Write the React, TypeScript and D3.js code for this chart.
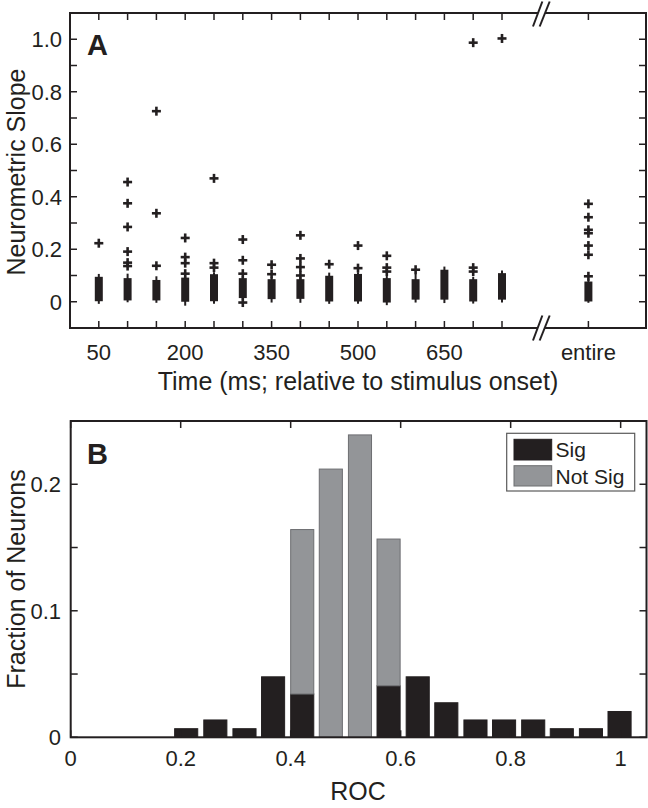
import React from "react";
import * as d3 from "d3";

// ---------- Panel A data (neurometric slope box plots) ----------
const timePositions = [50, 100, 150, 200, 250, 300, 350, 400, 450, 500, 550, 600, 650, 700, 750, 900];
const q1Values = [0.002, 0.005, 0.005, 0.0, 0.002, 0.014, 0.01, 0.011, 0.001, 0.001, -0.003, 0.008, 0.008, 0.001, 0.008, 0.001];
const q3Values = [0.095, 0.09, 0.083, 0.092, 0.105, 0.09, 0.086, 0.086, 0.099, 0.106, 0.09, 0.086, 0.122, 0.086, 0.109, 0.077];
const whiskerLow = [-0.008, -0.002, -0.004, -0.015, -0.008, 0.005, -0.003, -0.004, -0.008, -0.008, -0.013, -0.003, -0.005, -0.007, -0.003, -0.004];
const whiskerHigh = [0.106, 0.107, 0.097, 0.1, 0.112, 0.098, 0.095, 0.094, 0.111, 0.112, 0.098, 0.106, 0.134, 0.095, 0.119, 0.085];
const outliers = [
  [0.223],
  [0.456, 0.375, 0.285, 0.191, 0.149, 0.136],
  [0.726, 0.337, 0.137],
  [0.243, 0.17, 0.147, 0.107],
  [0.47, 0.147, 0.13],
  [0.237, 0.158, 0.107, -0.003],
  [0.141, 0.105],
  [0.253, 0.165, 0.132, 0.1],
  [0.143],
  [0.214, 0.128],
  [0.175, 0.13, 0.115],
  [0.122],
  [],
  [0.987, 0.13, 0.115],
  [1.003],
  [0.373, 0.322, 0.274, 0.261, 0.214, 0.179, 0.097],
];
const timeTickValues = [50, 100, 150, 200, 250, 300, 350, 400, 450, 500, 550, 600, 650, 700, 750, 900];
const timeTickLabels = [
  { v: 50, t: "50" },
  { v: 200, t: "200" },
  { v: 350, t: "350" },
  { v: 500, t: "500" },
  { v: 650, t: "650" },
  { v: 900, t: "entire" },
];
const breakAt = 818;
const slopeTicks = [0, 0.1, 0.2, 0.3, 0.4, 0.5, 0.6, 0.7, 0.8, 0.9, 1.0];
const slopeLabels = [
  { v: 0, t: "0" },
  { v: 0.2, t: "0.2" },
  { v: 0.4, t: "0.4" },
  { v: 0.6, t: "0.6" },
  { v: 0.8, t: "0.8" },
  { v: 1.0, t: "1.0" },
];

// ---------- Panel B data (ROC histogram) ----------
const rocBinCenters = [0.0, 0.053, 0.105, 0.158, 0.21, 0.263, 0.316, 0.368, 0.421, 0.473, 0.526, 0.578, 0.631, 0.683, 0.736, 0.788, 0.841, 0.893, 0.946, 0.998];
const sigFraction = [0, 0, 0, 0, 0.0068, 0.0137, 0.0068, 0.0478, 0.0342, 0, 0, 0.0407, 0.0478, 0.0273, 0.0137, 0.0137, 0.0137, 0.0068, 0.0068, 0.0204];
const notSigFraction = [0, 0, 0, 0, 0, 0, 0, 0, 0.13, 0.212, 0.239, 0.116, 0, 0, 0, 0, 0, 0, 0, 0];
const rocTicks = [0, 0.2, 0.4, 0.6, 0.8, 1];
const rocTickLabels = ["0", "0.2", "0.4", "0.6", "0.8", "1"];
const fracTicks = [0, 0.05, 0.1, 0.15, 0.2, 0.25];
const fracLabels = [
  { v: 0, t: "0" },
  { v: 0.1, t: "0.1" },
  { v: 0.2, t: "0.2" },
];
const legendLabels = ["Sig", "Not Sig"];

const FONT = "'Liberation Sans', Arial, Helvetica, sans-serif";
const BLACK = "#231f20";
const GRAY = "#939598";
const GRAY_STROKE = "#6d6e71";
const TICK_FS = 22;
const LABEL_FS = 25;
const LETTER_FS = 29;

export default function App() {
  // Panel A scales
  const xA = d3.scaleLinear().domain([0, 1000]).range([70, 646]);
  const yA = d3.scaleLinear().domain([-0.1, 1.1]).range([328, 13]);
  // Panel B scales
  const xB = d3.scaleLinear().domain([0, 1.047]).range([70.7, 646.5]);
  const yB = d3.scaleLinear().domain([0, 0.25]).range([737.3, 421]);

  const aL = 70, aR = 646, aT = 13, aB = 328;
  const bL = 70.7, bR = 646.5, bT = 421, bB = 737.3;
  const tick = 7;
  const binW = 0.042;

  const bx = xA(breakAt);
  const slash = (cy: number) => {
    const p1a = [bx - 8.2, cy + 12.5], p1b = [bx + 1.2, cy - 12.5];
    const p2a = [bx - 1.5, cy + 12.5], p2b = [bx + 8.5, cy - 12.5];
    return (
      <g>
        <polygon
          points={`${p1a[0]},${p1a[1]} ${p1b[0]},${p1b[1]} ${p2b[0]},${p2b[1]} ${p2a[0]},${p2a[1]}`}
          fill="#fff"
        />
        <line x1={p1a[0]} y1={p1a[1]} x2={p1b[0]} y2={p1b[1]} stroke={BLACK} strokeWidth={2} />
        <line x1={p2a[0]} y1={p2a[1]} x2={p2b[0]} y2={p2b[1]} stroke={BLACK} strokeWidth={2} />
      </g>
    );
  };

  const plus = (cx: number, cy: number, key: string) => (
    <g key={key} stroke={BLACK} strokeWidth={2.6}>
      <line x1={cx - 4.5} y1={cy} x2={cx + 4.5} y2={cy} />
      <line x1={cx} y1={cy - 4.5} x2={cx} y2={cy + 4.5} />
    </g>
  );

  return (
    <svg
      width={648}
      height={808}
      style={{ position: "absolute", left: 0, top: 0, background: "#fff" }}
      fontFamily={FONT}
    >
      <rect x={0} y={0} width={648} height={808} fill="#fff" />

      {/* ================= Panel A ================= */}
      <g>
        {timePositions.map((t, i) => {
          const cx = xA(t);
          return (
            <g key={"box" + i}>
              <line x1={cx} x2={cx} y1={yA(whiskerLow[i])} y2={yA(whiskerHigh[i])} stroke={BLACK} strokeWidth={2} />
              <rect
                x={cx - 4}
                width={8}
                y={yA(q3Values[i])}
                height={yA(q1Values[i]) - yA(q3Values[i])}
                fill={BLACK}
              />
              {outliers[i].map((o, j) => plus(cx, yA(o), `o${i}-${j}`))}
            </g>
          );
        })}

        <rect x={aL} y={aT} width={aR - aL} height={aB - aT} fill="none" stroke={BLACK} strokeWidth={2} />

        {timeTickValues.map((v) => (
          <g key={"xt" + v} stroke={BLACK} strokeWidth={1.5}>
            <line x1={xA(v)} x2={xA(v)} y1={aB} y2={aB - tick} />
            <line x1={xA(v)} x2={xA(v)} y1={aT} y2={aT + tick} />
          </g>
        ))}
        {slopeTicks.map((v) => (
          <g key={"yt" + v} stroke={BLACK} strokeWidth={1.5}>
            <line x1={aL} x2={aL + tick} y1={yA(v)} y2={yA(v)} />
            <line x1={aR} x2={aR - tick} y1={yA(v)} y2={yA(v)} />
          </g>
        ))}

        {slash(aT + 1)}
        {slash(aB)}

        {timeTickLabels.map((d) => (
          <text key={"xl" + d.v} x={xA(d.v)} y={360} textAnchor="middle" fontSize={TICK_FS} fill={BLACK}>
            {d.t}
          </text>
        ))}
        {slopeLabels.map((d) => (
          <text key={"yl" + d.v} x={62} y={yA(d.v)} dy="0.36em" textAnchor="end" fontSize={TICK_FS} fill={BLACK}>
            {d.t}
          </text>
        ))}

        <text x={358} y={390} textAnchor="middle" fontSize={LABEL_FS} fill={BLACK}>
          Time (ms; relative to stimulus onset)
        </text>
        <text
          transform={`translate(25, ${172}) rotate(-90)`}
          textAnchor="middle"
          fontSize={LABEL_FS}
          fill={BLACK}
        >
          Neurometric Slope
        </text>
        <text x={87} y={55} fontSize={LETTER_FS} fontWeight="bold" fill={BLACK}>
          A
        </text>
      </g>

      {/* ================= Panel B ================= */}
      <g>
        {rocBinCenters.map((c, i) => {
          const s = sigFraction[i];
          const n = notSigFraction[i];
          const x0 = xB(c - binW / 2);
          const w = xB(c + binW / 2) - x0;
          return (
            <g key={"bar" + i}>
              {s > 0 && (
                <rect x={x0} width={w} y={yB(s)} height={yB(0) - yB(s)} fill={BLACK} stroke={BLACK} strokeWidth={1} />
              )}
              {n > 0 && (
                <rect
                  x={x0}
                  width={w}
                  y={yB(s + n)}
                  height={yB(s) - yB(s + n)}
                  fill={GRAY}
                  stroke={GRAY_STROKE}
                  strokeWidth={1}
                />
              )}
            </g>
          );
        })}

        <rect x={bL} y={bT} width={bR - bL} height={bB - bT} fill="none" stroke={BLACK} strokeWidth={2} />

        {rocTicks.map((v) => (
          <g key={"bxt" + v} stroke={BLACK} strokeWidth={1.5}>
            <line x1={xB(v)} x2={xB(v)} y1={bB} y2={bB - tick} />
            <line x1={xB(v)} x2={xB(v)} y1={bT} y2={bT + tick} />
          </g>
        ))}
        {fracTicks.map((v) => (
          <g key={"byt" + v} stroke={BLACK} strokeWidth={1.5}>
            <line x1={bL} x2={bL + tick} y1={yB(v)} y2={yB(v)} />
            <line x1={bR} x2={bR - tick} y1={yB(v)} y2={yB(v)} />
          </g>
        ))}

        {rocTicks.map((v, i) => (
          <text key={"bxl" + v} x={xB(v)} y={766} textAnchor="middle" fontSize={TICK_FS} fill={BLACK}>
            {rocTickLabels[i]}
          </text>
        ))}
        {fracLabels.map((d) => (
          <text key={"byl" + d.v} x={61} y={yB(d.v)} dy="0.36em" textAnchor="end" fontSize={TICK_FS} fill={BLACK}>
            {d.t}
          </text>
        ))}

        <text x={358} y={800} textAnchor="middle" fontSize={LABEL_FS} fill={BLACK}>
          ROC
        </text>
        <text
          transform={`translate(25, ${579}) rotate(-90)`}
          textAnchor="middle"
          fontSize={LABEL_FS}
          fill={BLACK}
        >
          Fraction of Neurons
        </text>
        <text x={87} y={464} fontSize={LETTER_FS} fontWeight="bold" fill={BLACK}>
          B
        </text>

        <g>
          <rect x={506.7} y={433.3} width={128} height={57.7} fill="#fff" stroke="#5a5a5a" strokeWidth={1.2} />
          <rect x={514} y={439.3} width={37.7} height={20.7} fill={BLACK} stroke={BLACK} strokeWidth={1} />
          <rect x={514} y={465.7} width={37.7} height={20.3} fill={GRAY} stroke={GRAY_STROKE} strokeWidth={1} />
          <text x={555.5} y={457} fontSize={21} fill={BLACK}>
            {legendLabels[0]}
          </text>
          <text x={555.5} y={483.5} fontSize={21} fill={BLACK}>
            {legendLabels[1]}
          </text>
        </g>
      </g>
    </svg>
  );
}
